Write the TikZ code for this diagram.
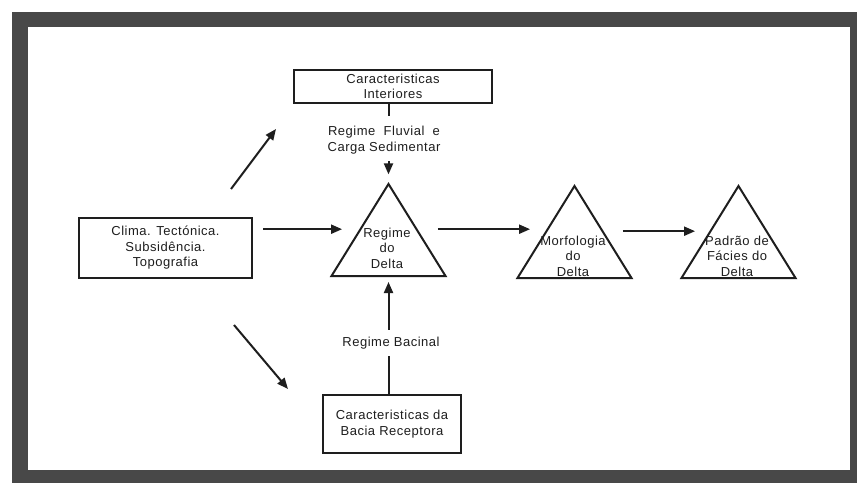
\documentclass[tikz,border=0pt]{standalone}
\usepackage{fontspec}
\setmainfont[LetterSpace=4]{Liberation Sans}
\usetikzlibrary{shapes.geometric,arrows.meta}
\definecolor{DLFrame}{HTML}{484848}
\definecolor{DLInk}{HTML}{1E1E1E}

\begin{document}
\begin{tikzpicture}[x=1pt,y=1pt,
  box/.style={draw=DLInk,line width=2pt,inner sep=0pt,align=center,text=DLInk,font=\fontsize{13}{15.5}\selectfont},
  delta/.style={draw=DLInk,line width=2pt,isosceles triangle,shape border rotate=90,isosceles triangle stretches,inner sep=0pt,minimum width=114pt,minimum height=92pt,anchor=lower side},
  lbl/.style={align=center,inner sep=2pt,text=DLInk,font=\fontsize{13}{15.5}\selectfont},
  flow/.style={DLInk,line width=2pt,-{Triangle[length=11pt,width=9pt]}},
  link/.style={DLInk,line width=2pt}]
\path[use as bounding box] (0,0) rectangle (857,483);
\fill[white] (0,0) rectangle (857,483);
\fill[DLFrame] (12,0) rectangle (857,471);
\fill[white] (28,13) rectangle (850,456);

\node[box,minimum width=198pt,minimum height=33pt] (topbox) at (393,396.5) {Caracteristicas\\Interiores};
\node[box,minimum width=173pt,minimum height=60pt] (clima) at (165.5,235) {Clima. Tectónica.\\Subsidência.\\Topografia};
\node[box,minimum width=138pt,minimum height=58pt] (basebox) at (392,59) {Caracteristicas da\\Bacia Receptora};

\node[delta] (rd) at (388.5,206) {};
\node[delta] (md) at (574.5,204) {};
\node[delta] (pf) at (738.5,204) {};
\node[lbl] (rdtext) at (387,235) {Regime\\do\\Delta};
\node[lbl] (mdtext) at (573,227) {Morfologia\\do\\Delta};
\node[lbl] (pftext) at (737,227) {Padrão de\\Fácies do\\Delta};

\node[lbl] (fluvial) at (384,343) {Regime\ \ Fluvial\ \ e\\Carga Sedimentar};
\node[lbl] (bacinal) at (391,140) {Regime Bacinal};

\draw[link,shorten >=8pt] (topbox.south -| rd.apex) -- (fluvial.north -| rd.apex);
\draw[flow,shorten <=5pt,shorten >=7pt] (fluvial.south -| rd.apex) -- (rd.apex);
\draw[link,shorten >=5pt] (basebox.north -| rd.apex) -- (bacinal.south -| rd.apex);
\draw[flow,shorten <=5pt,shorten >=5pt] (bacinal.north -| rd.apex) -- (rd.lower side -| rd.apex);

\draw[flow,shorten <=10pt,shorten >=17pt] (clima.east |- rd.left side) -- (rd.left side);
\draw[flow,shorten <=20pt,shorten >=15pt] (rd.right side) -- (md.left side |- rd.right side);
\draw[flow,shorten <=19pt,shorten >=14pt] (md.right side) -- (pf.left side);

\draw[flow] ([shift={(-22,28)}]clima.north east) -- ([shift={(-17,-25)}]topbox.south west);
\draw[flow] ([shift={(-19,-46)}]clima.south east) -- ([shift={(-34,5)}]basebox.north west);
\end{tikzpicture}
\end{document}
